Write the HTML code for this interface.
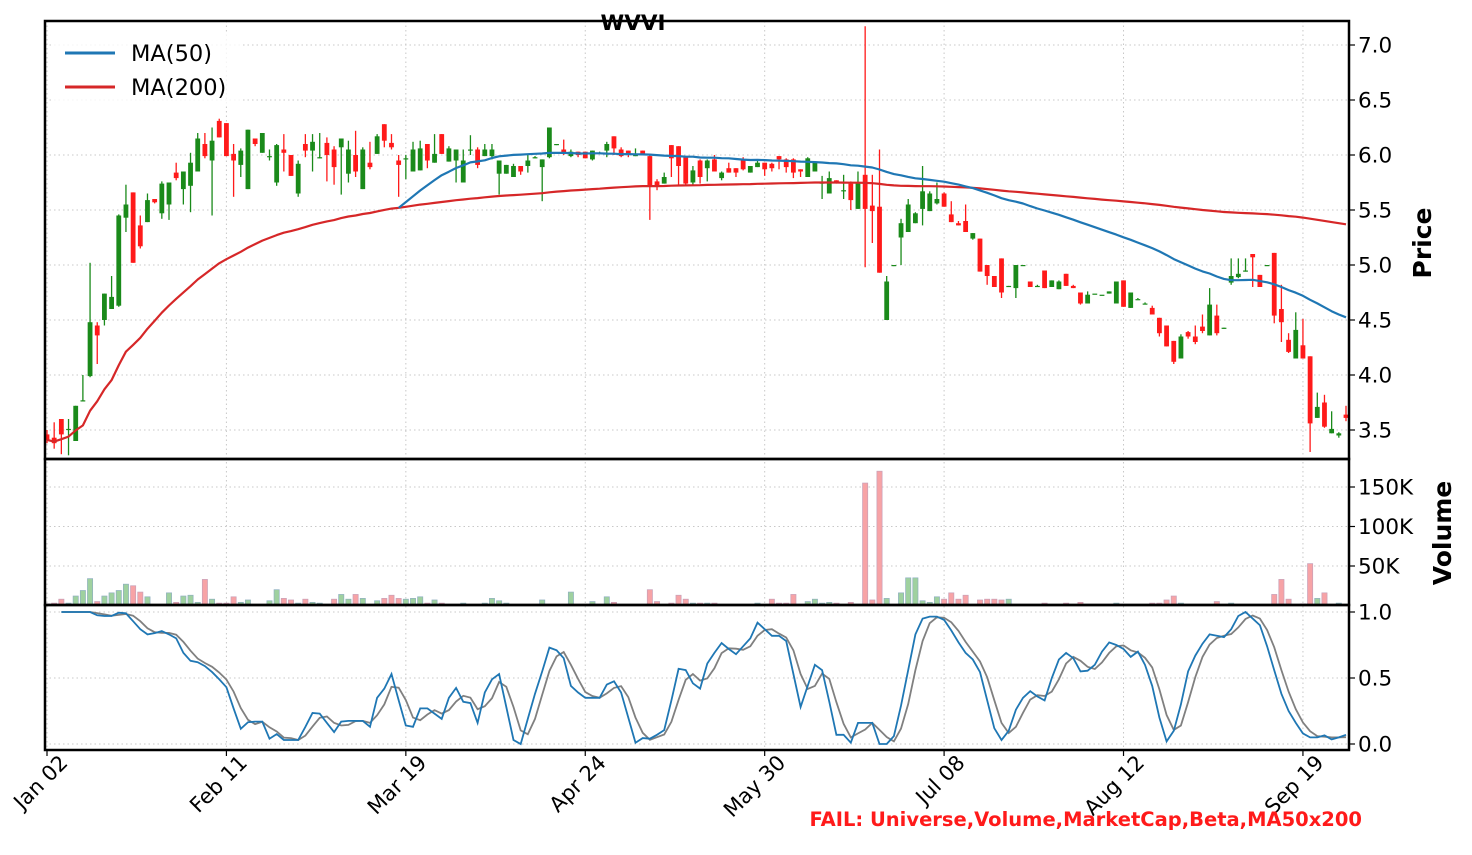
<!DOCTYPE html>
<html><head><meta charset="utf-8"><style>
html,body{margin:0;padding:0;background:#fff;}
svg{display:block;font-family:"DejaVu Sans","Liberation Sans",sans-serif;}
</style></head><body>
<svg id="chart" width="1472" height="855" viewBox="0 0 1472 855" xmlns="http://www.w3.org/2000/svg">
<rect x="0" y="0" width="1472" height="855" fill="#fff"/>
<g id="grid"></g>
<g id="marks"></g>
<g id="axes"></g>
<text x="633" y="30" text-anchor="middle" font-size="21.5" font-weight="bold">WVVI</text>
<g>
<rect x="52" y="32" width="190" height="72" fill="#fff" fill-opacity="0.8"/>
<g><line x1="65" y1="53" x2="115" y2="53" stroke="#1f77b4" stroke-width="3"/><text x="131" y="61" font-size="22.5">MA(50)</text></g>
<g><line x1="65" y1="87" x2="115" y2="87" stroke="#d62728" stroke-width="3"/><text x="131" y="95" font-size="22.5">MA(200)</text></g>
</g>
<text transform="translate(1431,243) rotate(-90)" text-anchor="middle" font-size="25" font-weight="bold">Price</text>
<text transform="translate(1451,533) rotate(-90)" text-anchor="middle" font-size="25" font-weight="bold">Volume</text>
<text x="1362" y="826" text-anchor="end" font-size="19.5" font-weight="bold" fill="#ff1a1a">FAIL: Universe,Volume,MarketCap,Beta,MA50x200</text>
</svg>
<script>
const opens=[3.46,3.43,3.60,3.51,3.40,3.77,3.99,4.45,4.5,4.6,4.63,5.43,5.66,5.36,5.39,5.6,5.47,5.55,5.84,5.69,5.72,5.85,6.1,5.95,6.31,6.29,6.01,5.91,5.69,6.15,6.02,5.99,5.75,6.05,6.0,5.65,6.1,6.04,5.98,6.11,6.05,6.07,5.83,6.0,5.69,5.93,6.01,6.28,6.11,5.95,
5.97,5.85,5.86,6.1,5.93,6.19,5.94,5.95,5.75,6.05,6.05,5.99,5.99,5.83,5.83,5.8,5.9,5.9,5.98,5.89,5.98,6.1,6.05,5.99,6.03,6.03,5.96,6.02,6.04,6.17,6.05,6.04,6.0,6.04,5.99,5.76,5.74,6.09,6.08,5.98,5.75,5.95,5.88,5.96,5.79,5.88,5.88,5.96,5.84,5.89,5.93,5.92,5.99,5.96,5.96,5.87,5.8,5.85,5.75,5.65,5.77,5.68,5.74,5.51,5.82,5.54,5.53,
4.5,5.0,5.25,5.3,5.38,5.51,5.49,5.56,5.65,5.46,5.38,5.4,5.24,5.24,5.0,4.9,5.06,4.81,4.79,5.0,4.85,4.81,4.95,4.8,4.78,4.92,4.81,4.75,4.65,4.74,4.73,4.74,4.65,4.86,4.61,4.69,4.65,4.61,4.52,4.45,4.31,4.15,4.39,4.35,4.44,4.36,4.54,4.43,4.84,4.89,4.95,5.1,4.91,5.0,5.11,4.6,4.32,4.15,4.27,4.17,3.61,3.75,3.47,3.45,3.64];
const closes=[3.41,3.38,3.46,3.51,3.72,3.77,4.48,4.36,4.74,4.71,5.45,5.55,5.02,5.17,5.59,5.57,5.74,5.75,5.79,5.85,5.93,6.15,5.99,6.13,6.16,5.99,5.95,6.04,6.23,6.1,6.2,5.99,6.09,6.02,5.81,5.92,6.04,6.12,5.98,6.0,5.89,6.15,6.05,5.85,6.05,5.89,6.17,6.13,6.07,5.91,
5.97,6.05,6.06,5.95,6.01,6.01,6.06,6.05,5.95,6.05,5.91,6.05,6.05,5.95,5.91,5.9,5.85,5.95,5.98,5.96,6.25,6.1,6.02,6.03,6.0,5.97,6.04,6.02,6.1,6.06,5.99,6.0,6.0,6.0,5.71,5.71,5.8,5.97,5.9,5.74,5.86,5.8,5.95,5.85,5.84,5.84,5.84,5.87,5.9,5.93,5.87,5.88,5.96,5.89,5.84,5.85,5.97,5.93,5.75,5.79,5.75,5.68,5.59,5.75,5.51,5.49,4.93,
4.85,5.0,5.38,5.55,5.47,5.67,5.65,5.6,5.53,5.39,5.36,5.3,5.29,4.94,4.9,4.8,4.75,4.81,5.0,5.0,4.8,4.81,4.79,4.86,4.85,4.81,4.79,4.65,4.73,4.74,4.73,4.76,4.85,4.62,4.75,4.69,4.65,4.55,4.38,4.26,4.12,4.35,4.35,4.3,4.4,4.64,4.38,4.43,4.9,4.92,4.95,5.07,4.8,5.0,4.54,4.48,4.21,4.41,4.15,3.56,3.71,3.53,3.51,3.47,3.61];
const highs=[3.5,3.57,3.6,3.6,3.72,4.0,5.02,4.48,4.74,4.9,5.46,5.73,5.66,5.45,5.65,5.6,5.76,5.75,5.93,5.85,6.02,6.2,6.2,6.25,6.33,6.29,6.1,6.06,6.23,6.15,6.2,6.05,6.1,6.19,6.0,5.95,6.19,6.19,6.2,6.16,6.08,6.15,6.13,6.22,6.07,6.12,6.19,6.28,6.19,6.0,
6.0,6.12,6.13,6.1,6.19,6.19,6.08,6.05,6.05,6.18,6.07,6.1,6.1,5.95,5.91,5.92,5.9,6.01,5.99,5.96,6.25,6.1,6.14,6.05,6.03,6.03,6.04,6.03,6.12,6.17,6.07,6.04,6.06,6.04,6.0,5.78,5.84,6.09,6.08,5.98,5.9,5.96,5.96,6.0,5.85,5.93,5.88,5.98,5.9,5.95,5.93,5.93,5.99,5.97,5.97,5.87,5.98,5.93,5.81,5.85,5.77,5.82,5.76,5.85,7.17,5.82,6.05,
4.9,5.0,5.42,5.6,5.48,5.9,5.67,5.75,5.66,5.58,5.4,5.55,5.29,5.24,5.0,4.9,5.06,4.81,5.0,5.0,4.85,4.82,4.95,4.86,4.86,4.92,4.82,4.75,4.76,4.74,4.73,4.76,4.85,4.86,4.75,4.7,4.66,4.63,4.52,4.45,4.31,4.37,4.4,4.45,4.55,4.79,4.64,4.43,5.06,5.06,5.06,5.1,4.91,5.0,5.11,4.82,4.38,4.57,4.51,4.17,3.84,3.82,3.67,3.48,3.72];
const lows=[3.38,3.33,3.28,3.27,3.40,3.76,3.98,4.10,4.45,4.6,4.62,5.3,5.02,5.15,5.39,5.56,5.42,5.41,5.77,5.55,5.48,5.85,5.97,5.45,6.16,5.99,5.62,5.8,5.69,6.08,6.02,5.95,5.72,5.85,5.81,5.62,5.98,5.85,5.97,5.76,5.73,5.64,5.75,5.8,5.69,5.87,6.01,6.07,6.05,5.62,
5.78,5.85,5.86,5.88,5.93,6.01,5.94,5.75,5.75,6.0,5.88,5.99,5.96,5.64,5.83,5.8,5.82,5.84,5.97,5.58,5.97,6.09,6.0,5.98,5.98,5.97,5.95,6.01,5.98,6.0,5.98,5.98,5.99,6.0,5.41,5.68,5.74,5.8,5.72,5.72,5.72,5.74,5.76,5.85,5.77,5.84,5.8,5.86,5.84,5.89,5.81,5.85,5.87,5.84,5.79,5.8,5.8,5.85,5.6,5.65,5.74,5.6,5.5,5.51,4.98,5.2,4.93,
4.5,4.99,5.0,5.3,5.38,5.36,5.49,5.55,5.53,5.39,5.36,5.3,5.23,4.94,4.82,4.8,4.7,4.8,4.7,5.0,4.8,4.8,4.79,4.8,4.78,4.81,4.79,4.64,4.65,4.74,4.73,4.74,4.65,4.62,4.61,4.69,4.65,4.55,4.35,4.26,4.1,4.15,4.33,4.28,4.38,4.36,4.36,4.42,4.82,4.88,4.94,4.8,4.8,5.0,4.47,4.3,4.2,4.15,4.15,3.3,3.61,3.52,3.47,3.43,3.58];
const volumesK=[2,3,8,3,12,19,34,5,12,16,19,27,25,17,11,1,1,16,4,12,13,4,33,8,3,3,11,4,7,1,1,6,20,9,7,3,8,4,3,1,8,14,8,14,9,1,6,9,13,9,8,9,11,3,7,3,0.5,1,3,0.5,0.5,3,9,6,3,0.5,1,0.5,0.5,7,1,0.5,0.5,17,0.5,1,5,0.5,11,4,0.5,1,0.5,0.5,20,5,1,3,13,8,3,
3,3,3,1,0.5,0.5,1,0.5,3,1,8,3,3,14,1,5,8,3,4,3,1,4,1,155,7,170,9,1,16,35,35,6,4,11,8,16,8,13,1,7,8,8,7,8,0.5,0.5,0.5,0.5,3,0.5,0.5,3,0.5,4,0.5,0.5,0.5,0.5,3,0.5,1,0.5,0.5,3,3,7,12,3,0.5,1,1,1,5,0.5,3,0.5,0.5,0.5,0.5,0.5,14,33,8,0.5,2,53,9,16,1,3,1];
const stochK=[null,null,1,1,1,1,1,0.975,0.97,0.97,0.995,0.99,0.93,0.87,0.83,0.84,0.855,0.83,0.8,0.69,0.63,0.62,0.59,0.545,0.49,0.43,0.27,0.115,0.165,0.17,0.17,0.04,0.075,0.03,0.03,0.03,0.13,0.235,0.23,0.16,0.09,0.17,0.175,0.175,0.175,0.13,0.35,0.42,0.53,0.33,0.14,0.13,0.27,0.27,0.23,0.19,0.35,0.425,0.32,0.31,0.16,0.39,0.49,0.53,0.28,0.03,0.0,0.19,0.38,0.55,0.73,0.71,0.65,0.44,0.39,0.35,0.35,0.35,0.45,0.475,0.39,0.2,0.01,0.045,0.04,0.07,0.105,0.33,0.57,0.56,0.46,
0.42,0.61,0.69,0.765,0.72,0.68,0.74,0.8,0.92,0.87,0.82,0.82,0.78,0.53,0.28,0.44,0.6,0.56,0.32,0.07,0.07,0.01,0.16,0.16,0.16,0.0,0.0,0.06,0.29,0.56,0.83,0.95,0.965,0.965,0.94,0.86,0.77,0.69,0.64,0.545,0.33,0.12,0.03,0.1,0.26,0.35,0.4,0.36,0.33,0.5,0.64,0.69,0.65,0.55,0.555,0.6,0.7,0.77,0.75,0.72,0.66,0.7,0.6,0.44,0.2,0.02,0.1,0.3,0.55,0.67,0.76,0.83,0.82,0.81,0.87,0.97,1.0,0.95,0.9,0.74,0.56,0.38,0.25,0.16,0.08,0.05,0.05,0.065,0.035,0.05,0.07];
const xTickIdx=[0,25,50,75,100,125,150,175];
const xTickLabels=["Jan 02","Feb 11","Mar 19","Apr 24","May 30","Jul 08","Aug 12","Sep 19"];
const priceTicks=[3.5,4.0,4.5,5.0,5.5,6.0,6.5,7.0];
const volTicks=[50,100,150];
const volTickLabels=["50K","100K","150K"];
const stochTicks=[0,0.5,1];

const NS="http://www.w3.org/2000/svg";
const L=45,R=1349,T=21,S1=459,S2=605,B=750;
const n=closes.length;
const X=i=>47+i*(1346-47)/(n-1);
const yP=p=>45+(7-p)*110;
const yV=v=>605.5-v*0.79;
const yS=s=>744-s*132;
function mk(tag,attrs,parent){const e=document.createElementNS(NS,tag);for(const k in attrs)e.setAttribute(k,attrs[k]);parent.appendChild(e);return e;}
const grid=document.getElementById('grid'),marks=document.getElementById('marks'),axes=document.getElementById('axes');
const gs={stroke:"#c8c8c8","stroke-width":1,"stroke-dasharray":"1.5,3"};
xTickIdx.forEach(i=>{const g=mk('line',Object.assign({x1:X(i),x2:X(i),y1:T,y2:B},gs),grid);});
priceTicks.forEach(p=>{const g=mk('line',Object.assign({x1:L,x2:R,y1:yP(p),y2:yP(p)},gs),grid);});
[0].concat(volTicks).forEach(v=>{const g=mk('line',Object.assign({x1:L,x2:R,y1:yV(v),y2:yV(v)},gs),grid);});
stochTicks.forEach(v=>{const g=mk('line',Object.assign({x1:L,x2:R,y1:yS(v),y2:yS(v)},gs),grid);});

for(let i=0;i<n;i++){const up=closes[i]>=opens[i];const h=Math.max(0.5,volumesK[i]*0.79);
const r=mk('rect',{x:X(i)-2.6,y:605.5-h,width:5.2,height:h,fill:up?"#9fd19f":"#f7a3a6",stroke:up?"#8fb0c0":"#c8a0b8","stroke-width":0.7},marks);
}
for(let i=0;i<n;i++){const up=closes[i]>=opens[i];const c=up?"#1a8a1a":"#ff1a1a";
const w=mk('line',{x1:X(i),x2:X(i),y1:yP(highs[i]),y2:yP(lows[i]),stroke:c,"stroke-width":1.3},marks);

const top=yP(Math.max(opens[i],closes[i])),bot=yP(Math.min(opens[i],closes[i]));
const b=mk('rect',{x:X(i)-2.4,y:top,width:4.8,height:Math.max(1.2,bot-top),fill:c},marks);
}
function ma(win,minp){const out=[];for(let i=0;i<n;i++){const s=Math.max(0,i-win+1);const cnt=i-s+1;if(cnt<minp){out.push(null);continue;}let t=0;for(let j=s;j<=i;j++)t+=closes[j];out.push(t/cnt);}return out;}
function path(vals,fy){let d="";vals.forEach((v,i)=>{if(v==null)return;d+=(d?"L":"M")+X(i).toFixed(1)+","+fy(v).toFixed(1);});return d;}
const ma200=ma(200,1),ma50=ma(50,50);
const p200=mk('path',{d:path(ma200,yP),fill:"none",stroke:"#d62728","stroke-width":2.2,"stroke-linejoin":"round"},marks);

const p50=mk('path',{d:path(ma50,yP),fill:"none",stroke:"#1f77b4","stroke-width":2.2,"stroke-linejoin":"round"},marks);

const stochD=stochK.map((v,i)=>{if(v==null)return null;const a=[];for(let j=Math.max(0,i-2);j<=i;j++)if(stochK[j]!=null)a.push(stochK[j]);return a.reduce((x,y)=>x+y,0)/a.length;});
const pd=mk('path',{d:path(stochD,yS),fill:"none",stroke:"#808080","stroke-width":1.8},marks);

const pk=mk('path',{d:path(stochK,yS),fill:"none",stroke:"#1f77b4","stroke-width":1.8},marks);

[[T,S1,'price-panel-frame'],[S1,S2,'volume-panel-frame'],[S2,B,'stoch-panel-frame']].forEach(a=>{const r=mk('rect',{x:L,y:a[0],width:R-L,height:a[1]-a[0],fill:"none",stroke:"#000","stroke-width":2.5},axes);});
function rtick(y,label,name){const t=mk('line',{x1:R,x2:R+6,y1:y,y2:y,stroke:"#000","stroke-width":1.2},axes);
const tx=mk('text',{x:R+9,y:y+7.5,"font-size":21.5},axes);tx.textContent=label;}
priceTicks.forEach(p=>rtick(yP(p),p.toFixed(1),'price'));
volTicks.forEach((v,k)=>rtick(yV(v),volTickLabels[k],'volume'));
stochTicks.forEach(v=>rtick(yS(v),v.toFixed(1),'stoch'));
xTickIdx.forEach((i,k)=>{const x=X(i);const t=mk('line',{x1:x,x2:x,y1:B,y2:B+6,stroke:"#000","stroke-width":1.2},axes);
const ax=x+22,ay=B+14;
const tx=mk('text',{x:ax,y:ay,"font-size":21,"text-anchor":"end",transform:"rotate(-45 "+ax+" "+ay+")"},axes);tx.textContent=xTickLabels[k];});
</script>
</body></html>
